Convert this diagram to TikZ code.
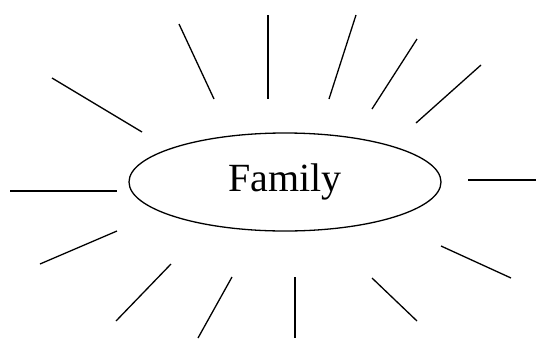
\documentclass[tikz,border=0pt]{standalone}
\usepackage{fontspec}
\setmainfont{Liberation Serif}
\usepackage{tikz}
\usetikzlibrary{shapes.geometric}

\begin{document}
\begin{tikzpicture}[x=1pt, y=-1pt, line width=1.3pt]
        \useasboundingbox (0,0) rectangle (536,338);

        % Central ellipse
        \node[draw, ellipse, minimum width=312pt, minimum height=98pt, inner sep=0pt,
              font=\fontsize{40}{44}\selectfont] (family) at (285,182) {Family};

        % Rays round the ellipse
        \foreach \xa/\ya/\xb/\yb in {52/78/142/132, 179/24/214/99, 268/15/268/99,
                356/15/329/99, 417/39/372/109, 481/65/416/123,
                10/191/117/191, 468/180/536/180,
                40/264/117/231, 116/321/171/264, 198/338/232/277,
                295/277/295/338, 372/278/417/321, 441/246/511/278}
            \draw (\xa,\ya) -- (\xb,\yb);

    \end{tikzpicture}
\end{document}
